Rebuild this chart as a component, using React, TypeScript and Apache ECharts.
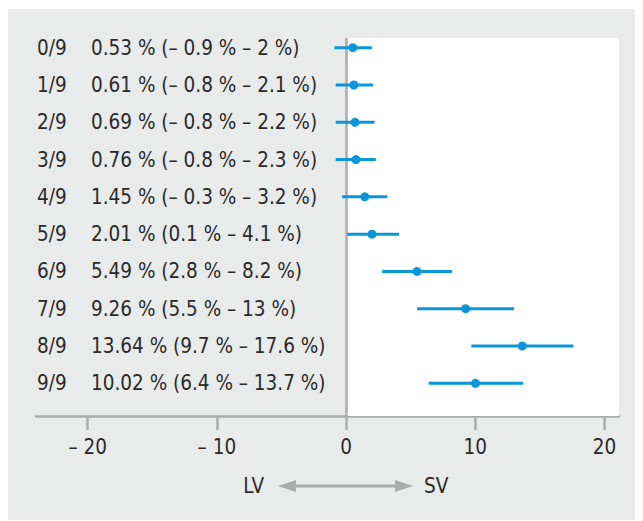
import React, { useEffect, useRef } from "react";
import * as echarts from "echarts";

const rowLabels = ["0/9", "1/9", "2/9", "3/9", "4/9", "5/9", "6/9", "7/9", "8/9", "9/9"];
const means = [0.53, 0.61, 0.69, 0.76, 1.45, 2.01, 5.49, 9.26, 13.64, 10.02];
const lows = [-0.9, -0.8, -0.8, -0.8, -0.3, 0.1, 2.8, 5.5, 9.7, 6.4];
const highs = [2, 2.1, 2.2, 2.3, 3.2, 4.1, 8.2, 13, 17.6, 13.7];
const xTicks = [-20, -10, 0, 10, 20];
const X_MIN = -24;
const X_MAX = 21.13;
const Y_MIN = -0.26;
const Y_MAX = 9.877;

const FONT = "'Liberation Sans Narrow', 'DejaVu Sans Condensed', 'Noto Sans', sans-serif";
const FS = 20.5;
const TEXT = "#2a2a2a";
const GREY = "#a9abad";
const BLUE = "#0a96d8";

const fmt = (v: number) => (v < 0 ? "– " + Math.abs(v) : String(v));
const ciText = (i: number) => `${fmt(means[i])} % (${fmt(lows[i])} % – ${fmt(highs[i])} %)`;

export default function App() {
  const ref = useRef<HTMLDivElement>(null);
  useEffect(() => {
    if (!ref.current) return;
    const chart = echarts.init(ref.current, null, { renderer: "svg" });
    const rowIdx = rowLabels.map((_, i) => i);
    chart.setOption({
      animation: false,
      backgroundColor: "#e9eaea",
      textStyle: { fontFamily: FONT, color: TEXT },
      grid: { left: 28, right: 24, top: 29, bottom: 105 },
      xAxis: {
        type: "value",
        min: X_MIN,
        max: X_MAX,
        splitLine: { show: false },
        axisLine: { show: true, onZero: false, lineStyle: { color: GREY, width: 2.5 } },
        axisTick: { show: true, customValues: xTicks, length: 14, lineStyle: { color: GREY, width: 2.5 } },
        axisLabel: {
          customValues: xTicks,
          margin: 20,
          fontSize: FS,
          fontFamily: FONT,
          color: TEXT,
          formatter: (v: number) => fmt(v),
        },
      },
      yAxis: {
        type: "value",
        inverse: true,
        min: Y_MIN,
        max: Y_MAX,
        splitLine: { show: false },
        axisLine: { show: false },
        axisTick: { show: false },
        axisLabel: {
          inside: true,
          margin: 1,
          customValues: rowIdx,
          fontFamily: FONT,
          fontSize: FS,
          color: TEXT,
          formatter: (v: number) => `{a|${rowLabels[v]}}{b|${ciText(v)}}`,
          rich: {
            a: { width: 54, fontSize: FS, fontFamily: FONT, color: TEXT },
            b: { fontSize: FS, fontFamily: FONT, color: TEXT },
          },
        },
      },
      series: [
        {
          type: "line",
          data: [],
          z: 1,
          silent: true,
          markArea: {
            silent: true,
            itemStyle: { color: "#ffffff" },
            data: [[{ xAxis: 0, yAxis: Y_MIN }, { xAxis: X_MAX, yAxis: Y_MAX }]],
          },
          markLine: {
            silent: true,
            symbol: "none",
            label: { show: false },
            lineStyle: { color: GREY, width: 2.5, type: "solid" },
            data: [{ xAxis: 0 }],
          },
        },
        {
          type: "custom",
          z: 5,
          data: means.map((m, i) => [m, i, lows[i], highs[i]]),
          encode: { x: [0, 2, 3], y: 1 },
          renderItem: (params: any, api: any) => {
            const y = api.value(1);
            const pm = api.coord([api.value(0), y]);
            const p1 = api.coord([api.value(2), y]);
            const p2 = api.coord([api.value(3), y]);
            return {
              type: "group",
              children: [
                {
                  type: "line",
                  shape: { x1: p1[0], y1: p1[1], x2: p2[0], y2: p2[1] },
                  style: { stroke: BLUE, lineWidth: 3 },
                },
                {
                  type: "circle",
                  shape: { cx: pm[0], cy: pm[1], r: 4.5 },
                  style: { fill: BLUE },
                },
              ],
            };
          },
        },
      ],
      graphic: [
        {
          type: "text",
          x: 256,
          y: 477,
          style: { text: "LV", fontSize: FS, fontFamily: FONT, fill: TEXT, align: "right", verticalAlign: "middle" },
        },
        {
          type: "line",
          shape: { x1: 284, y1: 477, x2: 391, y2: 477 },
          style: { stroke: GREY, lineWidth: 3 },
        },
        {
          type: "polygon",
          shape: { points: [[270, 477], [288, 471], [288, 483]] },
          style: { fill: GREY },
        },
        {
          type: "polygon",
          shape: { points: [[405, 477], [387, 471], [387, 483]] },
          style: { fill: GREY },
        },
        {
          type: "text",
          x: 416,
          y: 477,
          style: { text: "SV", fontSize: FS, fontFamily: FONT, fill: TEXT, align: "left", verticalAlign: "middle" },
        },
      ],
    });
    return () => chart.dispose();
  }, []);
  return (
    <div
      ref={ref}
      style={{ width: 635, height: 512, position: "relative", top: 1 }}
    />
  );
}
